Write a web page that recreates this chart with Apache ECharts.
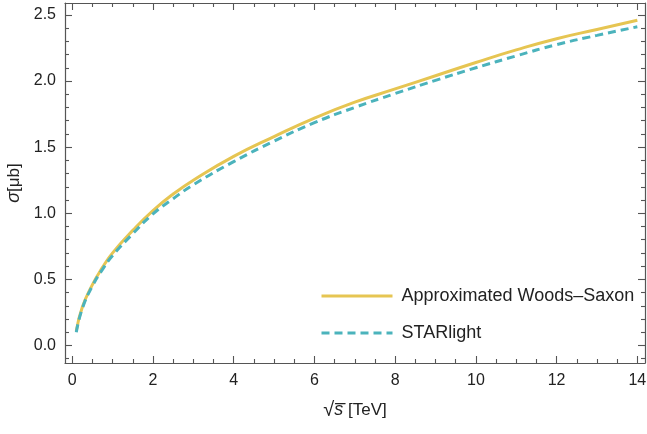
<!DOCTYPE html>
<html>
<head>
<meta charset="utf-8">
<script src="https://cdn.jsdelivr.net/npm/echarts@6/dist/echarts.min.js"></script>
<style>
html,body{margin:0;padding:0;background:#fff;}
#c{width:647px;height:434px;}
</style>
</head>
<body>
<div id="c"></div>
<script>
// ---- data ----
const energies = [0.1, 0.25, 0.5, 0.75, 1, 1.5, 2, 2.5, 3, 4, 5, 6, 7, 8, 9, 10, 11, 12, 13, 14];
const woodsSaxon = [0.11, 0.29, 0.46, 0.59, 0.70, 0.87, 1.02, 1.145, 1.25, 1.43, 1.58, 1.72, 1.84, 1.94, 2.04, 2.14, 2.235, 2.32, 2.39, 2.46];
const starlight = [0.10, 0.28, 0.45, 0.575, 0.68, 0.845, 0.995, 1.11, 1.215, 1.39, 1.545, 1.685, 1.80, 1.905, 2.005, 2.10, 2.19, 2.275, 2.345, 2.41];
const seriesNames = ['Approximated Woods\u2013Saxon', 'STARlight'];

const xMajorTicks = [0, 2, 4, 6, 8, 10, 12, 14];
const xTickLabels = ['0', '2', '4', '6', '8', '10', '12', '14'];
const xMinorTicks = [0.5, 1, 1.5, 2.5, 3, 3.5, 4.5, 5, 5.5, 6.5, 7, 7.5, 8.5, 9, 9.5, 10.5, 11, 11.5, 12.5, 13, 13.5];
const yMajorTicks = [0, 0.5, 1, 1.5, 2, 2.5];
const yTickLabels = ['0.0', '0.5', '1.0', '1.5', '2.0', '2.5'];
const yMinorTicks = [-0.1, 0.1, 0.2, 0.3, 0.4, 0.6, 0.7, 0.8, 0.9, 1.1, 1.2, 1.3, 1.4, 1.6, 1.7, 1.8, 1.9, 2.1, 2.2, 2.3, 2.4];

const xRange = [-0.18, 14.19];
const yRange = [-0.133, 2.59];

const FONT = '"Liberation Sans", Arial, sans-serif';
const frameColor = '#555555';
const textColor = '#222222';
const colors = ['#E6C552', '#4BB3BC'];

function pairs(xs, ys) { return xs.map((x, i) => [x, ys[i]]); }

function mkAxis(kind, pos, ticks, len, labels, showLine) {
  const ax = {
    type: 'value', position: pos,
    min: kind === 'x' ? xRange[0] : yRange[0],
    max: kind === 'x' ? xRange[1] : yRange[1],
    axisLine: { show: showLine, onZero: false, lineStyle: { color: frameColor, width: 1.2 } },
    axisTick: { show: true, inside: true, length: len, customValues: ticks, lineStyle: { color: frameColor, width: 1.1 } },
    splitLine: { show: false },
    axisLabel: { show: false }
  };
  if (labels) {
    ax.axisLabel = {
      show: true, customValues: ticks, margin: kind === 'x' ? 10 : 9, hideOverlap: false,
      color: textColor, fontFamily: FONT, fontSize: 16,
      formatter: v => { const i = ticks.findIndex(t => Math.abs(t - v) < 1e-9); return i >= 0 ? labels[i] : ''; }
    };
  }
  return ax;
}

const xAxes = [
  mkAxis('x', 'bottom', xMajorTicks, 7, xTickLabels, true),
  mkAxis('x', 'bottom', xMinorTicks, 4, null, false),
  mkAxis('x', 'top', xMajorTicks, 7, null, true),
  mkAxis('x', 'top', xMinorTicks, 4, null, false)
];
Object.assign(xAxes[0], {
  name: '{r|\u221A}{s|s\u0305} [TeV]', nameLocation: 'middle', nameGap: 37,
  nameTextStyle: { color: textColor, fontFamily: FONT, fontSize: 17,
    rich: {
      r: { fontFamily: FONT, fontSize: 20, color: textColor },
      s: { fontStyle: 'italic', fontFamily: FONT, fontSize: 18, color: textColor }
    } }
});
const yAxes = [
  mkAxis('y', 'left', yMajorTicks, 7, yTickLabels, true),
  mkAxis('y', 'left', yMinorTicks, 4, null, false),
  mkAxis('y', 'right', yMajorTicks, 7, null, true),
  mkAxis('y', 'right', yMinorTicks, 4, null, false)
];
Object.assign(yAxes[0], {
  name: '{i|\u03C3}[\u03BCb]', nameLocation: 'middle', nameGap: 36,
  nameTextStyle: { color: textColor, fontFamily: FONT, fontSize: 17,
    rich: { i: { fontStyle: 'italic', fontFamily: FONT, fontSize: 18, color: textColor } } }
});

const chart = echarts.init(document.getElementById('c'), null, { renderer: 'canvas' });
chart.setOption({
  animation: false,
  backgroundColor: '#ffffff',
  grid: { left: 65, right: 2, top: 3, bottom: 71, containLabel: false, outerBoundsMode: 'none' },
  xAxis: xAxes,
  yAxis: yAxes,
  legend: {
    orient: 'vertical', left: 315, top: 282,
    itemWidth: 71, itemHeight: 14, itemGap: 19,
    itemStyle: { opacity: 0 },
    lineStyle: { width: 3 },
    textStyle: { color: textColor, fontFamily: FONT, fontSize: 18, padding: [0, 0, 0, 4] },
    data: seriesNames
  },
  series: [
    { name: seriesNames[0], type: 'line', symbol: 'none', smooth: true,
      data: pairs(energies, woodsSaxon), color: colors[0],
      lineStyle: { color: colors[0], width: 3 }, z: 2 },
    { name: seriesNames[1], type: 'line', symbol: 'none', smooth: true,
      data: pairs(energies, starlight), color: colors[1],
      lineStyle: { color: colors[1], width: 3, type: [8, 5] }, z: 3 }
  ]
});
</script>
</body>
</html>
